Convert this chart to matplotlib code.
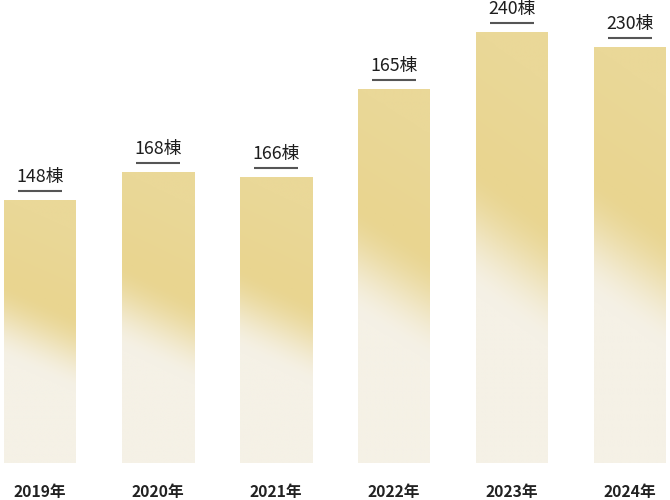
import numpy as np
import matplotlib
matplotlib.use("Agg")
import matplotlib.pyplot as plt
from matplotlib.colors import to_rgb

plt.rcParams['font.family'] = ['Noto Sans CJK JP', 'DejaVu Sans']

years = ["2019年", "2020年", "2021年", "2022年", "2023年", "2024年"]
values = [148, 168, 166, 165, 240, 230]
# visual bar heights as drawn in the reference (not proportional to values)
bar_heights = [263, 291, 286, 374, 431, 416]

gold_top = np.array(to_rgb("#EAD898"))
gold_mid = np.array(to_rgb("#E9D590"))
cream = np.array(to_rgb("#F5F1E6"))

fig = plt.figure(figsize=(6.7, 5.0), dpi=100)
ax = fig.add_axes([0, 37 / 500, 1, 463 / 500])
ax.set_xlim(-40 / 118, 630 / 118)
ax.set_ylim(0, 463)
ax.axis("off")

width = 72 / 118
x = np.arange(len(years))
bars = ax.bar(x, bar_heights, width=width, color="none", edgecolor="none")

ny, nx = 400, 80
yy, xx = np.mgrid[0:1:ny * 1j, 0:1:nx * 1j]  # yy: 0 at top -> 1 at bottom
t = yy - 0.12 * xx
g = np.clip(t / 0.3, 0, 1)[..., None]
base = gold_top * (1 - g) + gold_mid * g
f = np.clip((t - 0.31) / (0.61 - 0.31), 0, 1)
f = (f * f * (3 - 2 * f))[..., None]
rgb = base * (1 - f) + cream * f

for b in bars:
    x0, w = b.get_x(), b.get_width()
    h = b.get_height()
    img = ax.imshow(rgb, extent=(x0, x0 + w, 0, h), origin="upper",
                    aspect="auto", interpolation="bilinear", zorder=1)
    img.set_clip_path(b)

for xi, h, v in zip(x, bar_heights, values):
    ax.plot([xi - 0.19, xi + 0.19], [h + 9, h + 9], color="#555555", lw=1.5,
            solid_capstyle="butt", zorder=3)
    ax.text(xi, h + 23, f"{v}棟", ha="center", va="center", fontsize=12.8,
            color="#1e1e1e", zorder=3)

for xi, yr in zip(x, years):
    fig.text((40 + 118 * xi) / 670, 1 - 492 / 500, yr, ha="center", va="center",
             fontsize=11.3, fontweight="bold", color="#222222")

fig.savefig("out.png", dpi=100, facecolor="white")
